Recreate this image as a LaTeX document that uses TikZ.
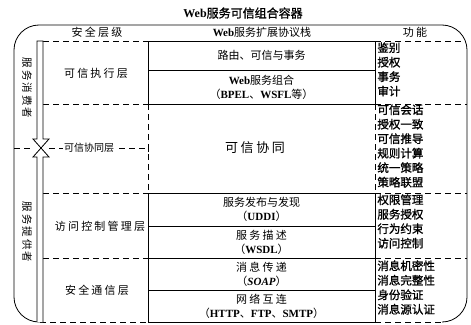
\documentclass[tikz,border=0pt]{standalone}
\usepackage{fontspec}
\setmainfont{Liberation Serif}
\newfontfamily\zh{Noto Sans CJK SC}
\newfontfamily\zhs[LetterSpace=20]{Noto Sans CJK SC}
\newfontfamily\zhb[FakeBold=1.2]{Noto Sans CJK SC}
\newcommand\lb[1]{{\rmfamily\bfseries #1}}
\newcommand\lbi[1]{{\rmfamily\bfseries\itshape #1}}
\begin{document}
\begin{tikzpicture}[x=1pt,y=-1pt,line width=0.8pt,
  dsh/.style={dash pattern=on 6pt off 4pt},
  box/.style={draw,minimum width=227pt,inner sep=0pt,align=center,font=\zh\fontsize{11}{14}\selectfont},
  lbl/.style={inner sep=0pt,font=\zhs\fontsize{11}{13}\selectfont},
  fn/.style={anchor=north west,inner sep=0pt,align=left,font=\zhb\fontsize{11.5}{14.5}\selectfont},
  hdr/.style={inner sep=0pt,font=\zhs\fontsize{11}{13}\selectfont}]
\useasboundingbox (0,0) rectangle (471,324);
% title
\node[inner sep=0pt,font=\fontsize{12}{14}\selectfont] (title) at (243,13) {\lb{Web}{\zhb 服务可信组合容器}};
% outer border
\draw[rounded corners=25pt] (40,322) -| (14,25) -| (467,322) -- (442,322);
\draw[dsh] (40,322) -- (148,322);
\draw[dsh] (375,322) -- (442,322);
% headers
\node[hdr] (h1) at (97,32) {安全层级};
\node[inner sep=0pt,font=\fontsize{11}{13}\selectfont] (h2) at (262,32) {\lb{Web}{\zh 服务扩展协议栈}};
\node[hdr] (h3) at (415,32) {功能};
% left column dashed lines
\draw[dsh] (43,41) -- (148,41);
\draw[dsh] (43,104) -- (148,104);
\draw[dsh] (43,193) -- (148,193);
\draw[dsh] (43,258) -- (148,258);
\draw[dsh] (14,148) -- (33,148);
\draw[dsh] (49,148) -- (148,148);
\draw (148,144) -- (148,152);
% right column dashed lines
\draw[dsh] (375,41) -- (465,41);
\draw[dsh] (375,104) -- (467,104);
\draw[dsh] (375,193) -- (467,193);
\draw[dsh] (375,258) -- (467,258);
% vertical dashed
\draw[dsh] (148,104) -- (148,193);
\draw[dsh] (375,104) -- (375,193);
% double shaft arrows
\draw[fill=white] (37,41) -- (37,139) -- (33,139) -- (41,148) -- (49,139) -- (43,139) -- (43,41) -- cycle;
\draw[fill=white] (37,322) -- (37,157) -- (33,157) -- (41,148) -- (49,157) -- (43,157) -- (43,322);
% vertical role labels
\node[lbl,rotate=-90,font=\zhs\fontsize{10.5}{12}\selectfont] (cons) at (27,88) {服务消费者};
\node[lbl,rotate=-90,font=\zhs\fontsize{10.5}{12}\selectfont] (prov) at (27,232) {服务提供者};
% layer labels
\node[lbl] (l1) at (96,73) {可信执行层};
\node[lbl,fill=white,inner sep=1.5pt,font=\zh\fontsize{10}{12}\selectfont] (l2) at (89,148) {可信协同层};
\node[lbl] (l3) at (100,226) {访问控制管理层};
\node[lbl] (l4) at (97,290) {安全通信层};
% protocol stack boxes
\node[box,minimum height=29pt] (b1) at (261.5,55.5) {路由、可信与事务};
\node[box,minimum height=34pt] (b2) at (261.5,87) {\lb{Web}服务组合\\（\lb{BPEL}、\lb{WSFL}等）};
\node[inner sep=0pt,font=\zhs\fontsize{13}{15}\selectfont] (co) at (255,148) {可信协同};
\node[box,minimum height=33pt] (b3) at (261.5,209.5) {服务发布与发现\\（\lb{UDDI}）};
\node[box,minimum height=32pt] (b4) at (261.5,242) {{\zhs 服务描述}\\（\lb{WSDL}）};
\node[box,minimum height=32pt] (b5) at (261.5,274) {{\zhs 消息传递}\\（\lbi{SOAP}）};
\node[box,minimum height=32pt] (b6) at (261.5,306) {{\zhs 网络互连}\\（\lb{HTTP}、\lb{FTP}、\lb{SMTP}）};
% functions
\node[fn] (f1) at (377,42) {鉴别\\授权\\事务\\审计};
\node[fn] (f2) at (377,104) {可信会话\\授权一致\\可信推导\\规则计算\\统一策略\\策略联盟};
\node[fn] (f3) at (377,194) {权限管理\\服务授权\\行为约束\\访问控制};
\node[fn] (f4) at (377,260) {消息机密性\\消息完整性\\身份验证\\消息源认证};
\end{tikzpicture}
\end{document}
